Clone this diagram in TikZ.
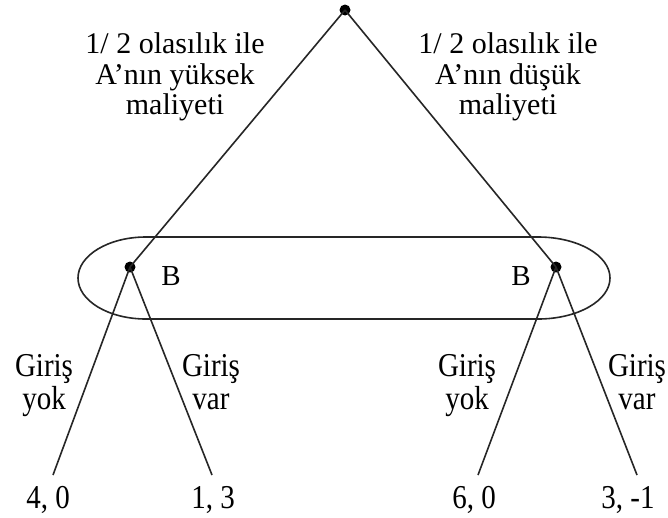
\documentclass[tikz,border=0pt]{standalone}
\usepackage{fontspec}
\setmainfont{Liberation Serif}
\newcommand\tallt[1]{\scalebox{1}[1.15]{#1}}
\begin{document}
\begin{tikzpicture}[x=1pt,y=-1pt,
  edge/.style={draw=black!85, line width=1.6pt},
  dot/.style={circle, fill=black, inner sep=0pt, minimum size=11pt},
  toplbl/.style={font=\fontsize{30}{30.5}\selectfont, align=center, inner sep=0pt},
  botlbl/.style={font=\fontsize{29}{33}\selectfont, align=center, inner sep=0pt, anchor=north},
  pay/.style={font=\fontsize{29}{33}\selectfont, inner sep=0pt, anchor=base},
  blbl/.style={font=\fontsize{29}{33}\selectfont, inner sep=0pt, anchor=base}]
\useasboundingbox (0,0) rectangle (668,517);
\fill[white] (0,0) rectangle (668,517);
% information set
\draw[edge] (146,237) -- (538,237)
  arc[start angle=-90, end angle=90, x radius=72, y radius=41]
  -- (146,319)
  arc[start angle=90, end angle=270, x radius=68, y radius=41];
% nodes
\node[dot] (r) at (345,10) {};
\node[dot] (bl) at (130,267) {};
\node[dot] (br) at (556,267) {};
\coordinate (l1) at (53,475);
\coordinate (l2) at (212,475);
\coordinate (l3) at (478,475);
\coordinate (l4) at (637,475);
% edges
\draw[edge] (r.center) -- (bl.center);
\draw[edge] (r.center) -- (br.center);
\draw[edge] (bl.center) -- (l1);
\draw[edge] (bl.center) -- (l2);
\draw[edge] (br.center) -- (l3);
\draw[edge] (br.center) -- (l4);
% labels
\node[toplbl] (tl) at (175,77) {1/ 2 olasılık ile\\A'nın yüksek\\maliyeti};
\node[toplbl] (tr) at (508,77) {1/ 2 olasılık ile\\A'nın düşük\\maliyeti};
\node[blbl] (bl1) at (171,285) {B};
\node[blbl] (br1) at (521,285) {B};
\node[botlbl] (g1) at (44,354) {\tallt{Giriş}\\\tallt{yok}};
\node[botlbl] (g2) at (211,354) {\tallt{Giriş}\\\tallt{var}};
\node[botlbl] (g3) at (467,354) {\tallt{Giriş}\\\tallt{yok}};
\node[botlbl] (g4) at (637,354) {\tallt{Giriş}\\\tallt{var}};
\node[pay] (p1) at (48,508) {\tallt{4, 0}};
\node[pay] (p2) at (213,508) {\tallt{1, 3}};
\node[pay] (p3) at (474,508) {\tallt{6, 0}};
\node[pay] (p4) at (628,508) {\tallt{3, -1}};
\end{tikzpicture}
\end{document}
